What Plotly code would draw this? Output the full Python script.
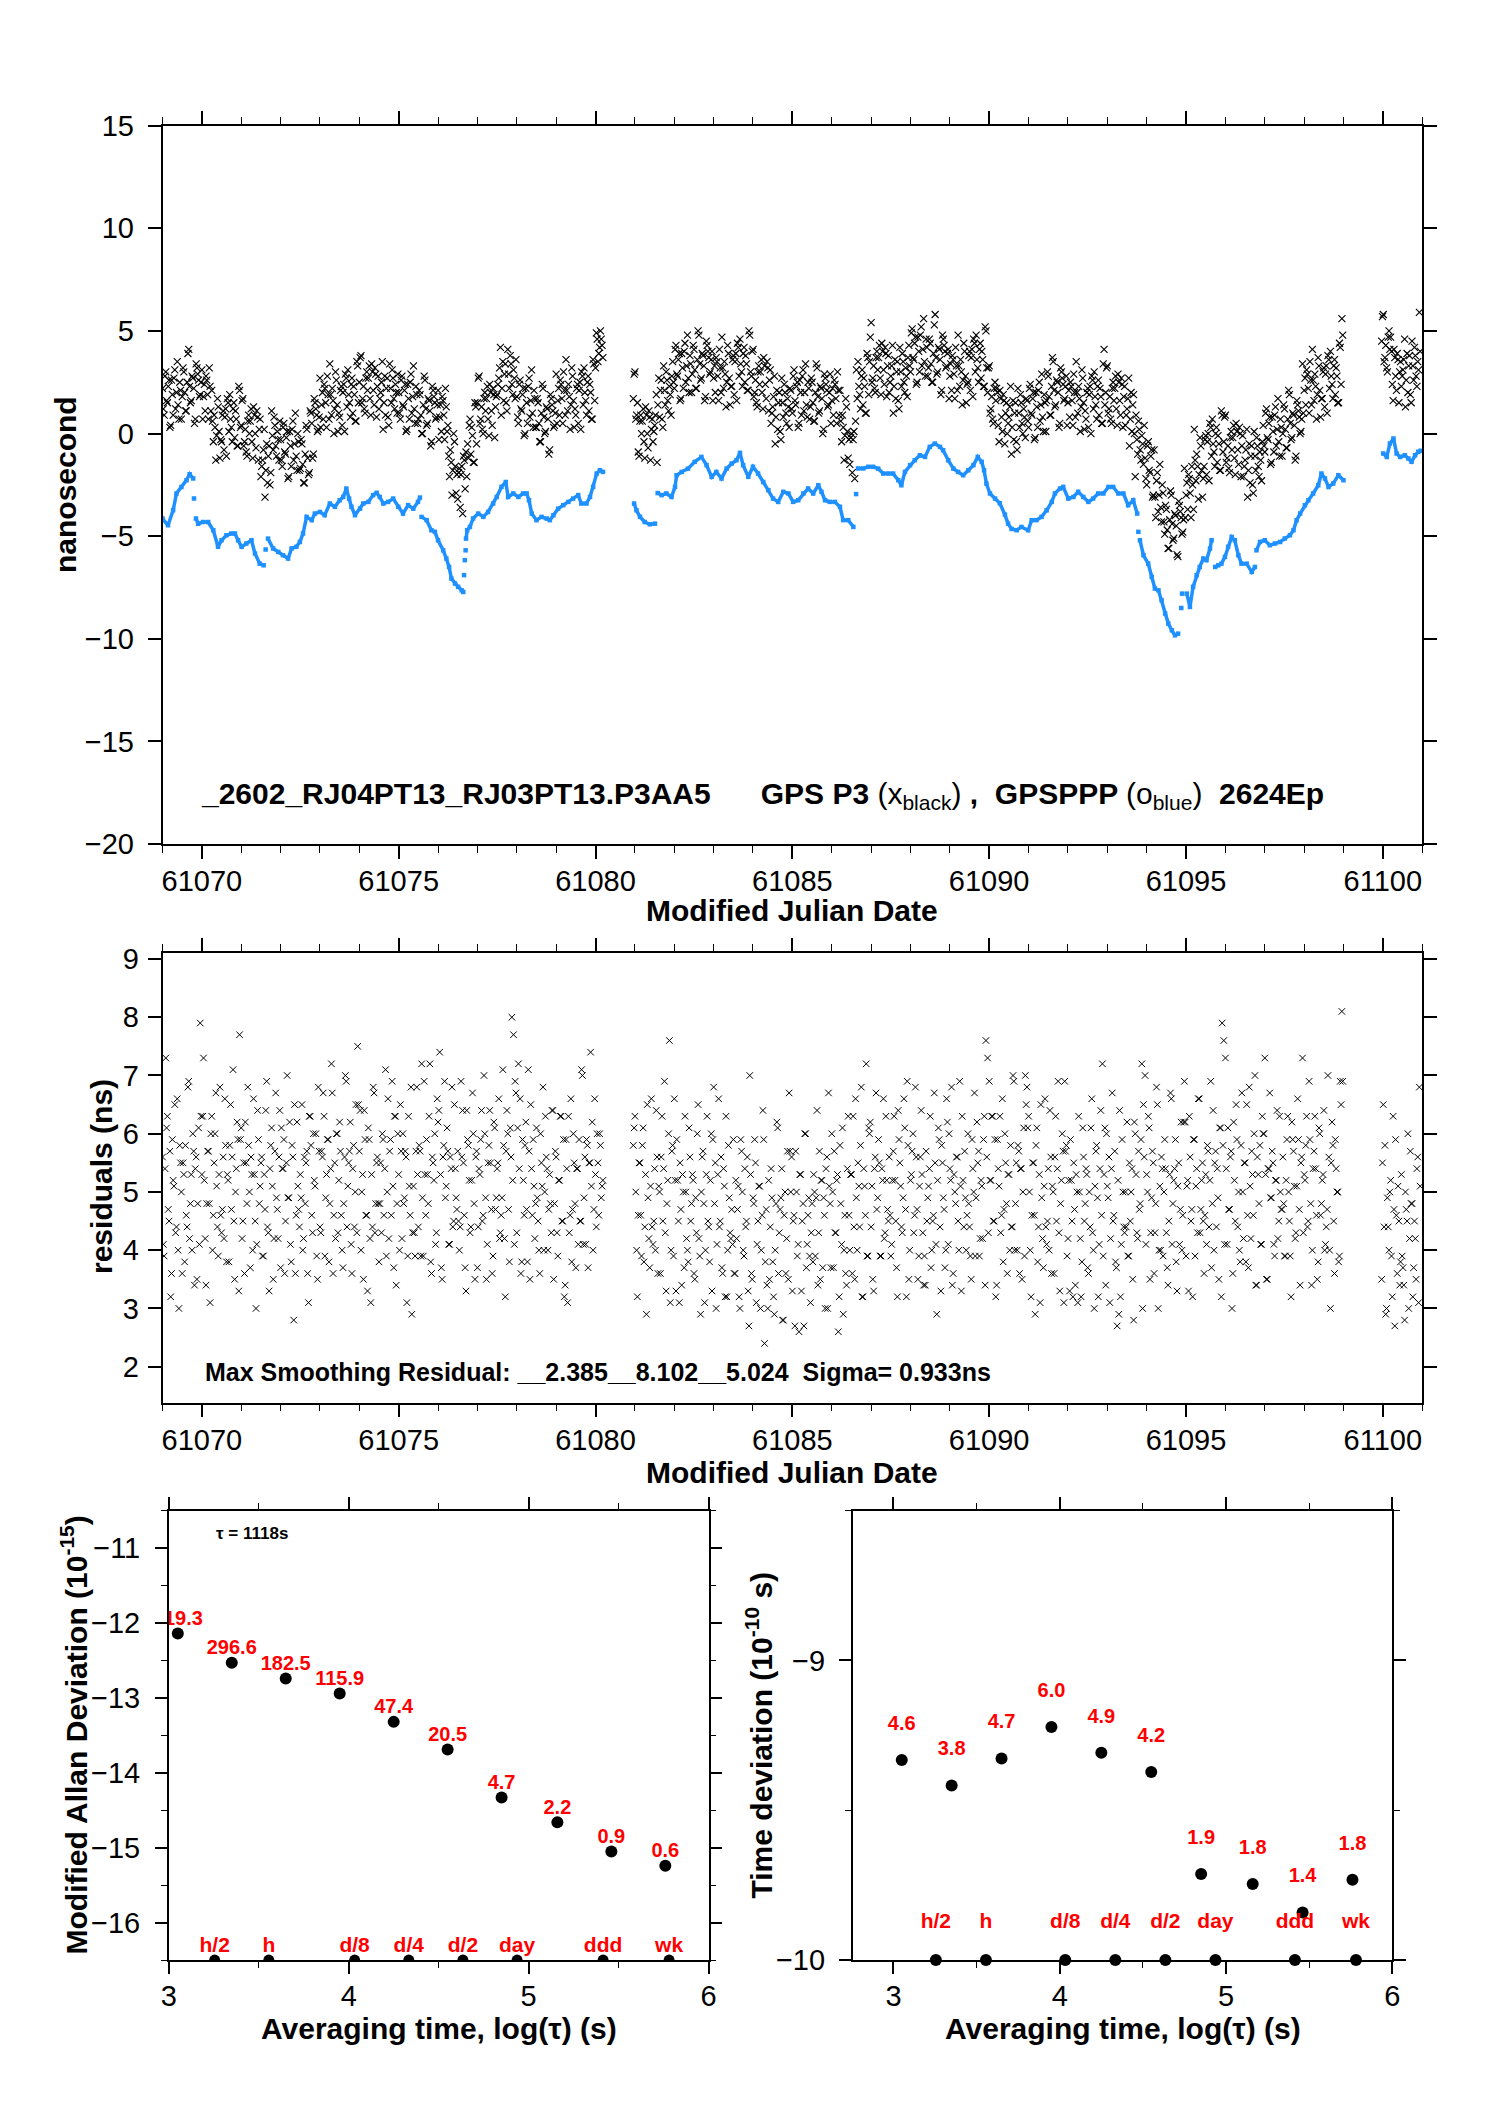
import numpy as np
import plotly.graph_objects as go

FF = "Liberation Sans, Arial, Helvetica, sans-serif"
PAGE_W, PAGE_H = 1488, 2105
OFF = 8                      # default body margin of the page
FW, FH = PAGE_W - 2 * OFF, PAGE_H - 2 * OFF

# ---------------- GPS P3 (black x): hourly samples, two interleaved sets ----------------
SEG_START = [61069.0, 61080.96, 61099.97]
SAMPLE_STEP = 1.0 / 24.0
SET2_SHIFT = 1.0 / 48.0

BLACK_A = [
 2.2,0.9,3.0,1.5,2.6,0.4,1.9,2.7,1.2,3.5,0.7,2.1,
 1.8,3.0,1.1,2.5,4.1,1.5,2.8,2.2,0.7,3.2,2.6,1.9,
 3.1,1.8,1.1,2.6,0.7,2.3,2.1,-0.4,0.3,-0.1,1.3,-1.2,
 -0.4,1.1,0.8,-1.1,1.5,1.9,0.3,1.2,-0.2,0.7,-0.6,2.1,
 0.4,1.7,-0.4,-0.9,0.6,0.0,1.2,-1.2,0.9,-0.7,0.8,0.2,
 -2.1,-1.3,0.2,-1.8,-2.4,-0.6,-1.9,-0.1,0.8,-0.6,0.1,-1.3,
 -0.3,-1.6,0.5,-1.0,0.1,-2.1,-0.6,0.2,-1.3,1.0,-1.8,-0.4,
 -1.7,-0.5,-2.4,-1.0,0.2,-2.0,1.1,0.5,-1.0,1.5,0.9,0.2,
 2.7,1.4,0.7,2.2,0.3,1.9,3.4,0.9,1.6,1.2,2.6,0.1,
 0.8,2.3,2.0,0.1,2.7,3.1,1.5,2.4,1.0,1.9,0.6,3.3,
 2.5,3.8,1.7,1.2,2.7,2.1,3.3,0.9,3.0,1.4,2.9,2.3,
 1.2,2.0,3.5,1.5,0.9,2.7,0.4,2.2,3.1,1.7,2.4,1.0,
 2.0,0.7,2.8,1.3,2.4,0.2,1.7,2.5,1.0,3.3,0.5,1.9,
 0.7,1.9,0.0,1.4,2.6,0.4,1.7,1.1,-0.4,2.1,1.5,0.8,
 2.1,0.8,0.1,1.6,-0.3,1.3,0.4,-2.1,-1.4,-1.8,-0.4,-2.9,
 -3.2,-1.7,-2.0,-3.9,-1.3,-0.9,-0.5,0.4,-1.0,-0.1,-1.4,1.3,
 1.5,2.8,0.7,0.2,1.7,1.1,2.3,-0.1,2.0,0.4,1.9,1.3,
 1.9,2.7,4.2,2.2,1.6,3.4,1.1,2.9,3.8,2.4,3.1,1.7,
 1.8,0.5,2.6,1.1,2.2,0.0,1.5,2.3,0.8,3.1,0.3,1.7,
 0.3,1.5,-0.4,1.0,2.2,0.0,1.3,0.7,-0.8,1.7,1.1,0.4,
 2.9,1.6,0.9,2.4,0.5,2.1,3.6,1.1,1.8,1.4,2.8,0.3,
 0.9,2.4,2.1,0.2,2.8,3.2,1.6,2.5,1.1,2.0,0.7,3.4,
 3.2,4.6,3.9,5.0,4.3]

BLACK_B = [
 1.7,3.0,0.9,-0.9,0.6,0.0,1.2,-1.2,0.9,-0.7,0.8,0.2,
 -0.4,0.4,1.9,1.4,0.8,2.6,0.3,2.1,3.0,1.6,2.3,0.9,
 3.5,2.2,4.3,2.8,3.9,1.7,3.2,4.0,2.5,4.8,2.0,3.4,
 2.9,4.1,2.2,3.6,4.8,2.6,3.9,3.3,1.8,4.3,3.7,3.0,
 4.0,2.7,2.0,3.5,1.6,3.2,4.7,2.2,2.9,2.5,3.9,1.4,
 2.3,3.8,3.5,1.6,4.2,4.6,3.0,3.9,2.5,3.4,2.1,4.8,
 2.8,4.1,2.0,1.5,3.0,2.4,3.6,1.2,3.3,1.7,3.2,2.6,
 0.5,1.3,2.8,0.8,0.2,2.0,-0.3,1.5,2.4,1.0,1.7,0.3,
 2.1,1.0,3.1,1.4,2.5,0.5,2.0,2.8,1.1,3.4,0.8,2.2,
 1.3,2.5,0.6,2.0,3.2,1.0,2.3,1.7,0.2,2.7,2.1,1.4,
 2.9,1.6,0.9,2.4,0.5,2.1,2.1,-0.4,0.3,-0.1,1.3,-1.2,
 -1.5,0.0,-0.3,-2.2,3.1,3.5,1.9,2.8,1.4,2.3,1.0,3.7,
 3.5,5.4,2.7,2.2,3.7,3.1,4.3,1.9,4.0,2.4,3.9,3.3,
 2.0,2.8,4.3,2.3,1.7,3.5,1.2,3.0,3.9,2.5,3.2,1.8,
 4.3,3.0,5.1,3.6,4.7,2.5,4.0,4.8,3.3,5.6,2.8,4.2,
 3.2,4.4,2.5,3.9,5.8,2.9,4.2,3.6,2.1,4.6,4.0,3.3,
 4.1,2.8,2.1,3.6,1.7,3.3,4.8,2.3,3.0,2.6,4.0,1.5,
 2.5,4.0,3.7,1.8,4.4,4.8,3.2,4.1,2.7,3.6,2.3,5.0,
 2.0,3.3,1.2,0.7,2.2,1.6,2.0,-0.4,1.7,0.1,1.6,1.0,
 0.0,0.8,2.3,0.3,-0.3,1.5,-0.8,1.0,1.9,0.5,1.2,-0.2,
 1.6,0.3,2.4,0.9,2.0,-0.2,1.3,2.1,0.6,2.9,0.1,1.5,
 1.6,2.8,0.9,2.3,3.5,1.3,2.6,2.0,0.5,3.0,2.4,1.7,
 2.8,1.5,0.8,2.3,0.4,2.0,3.5,1.0,1.7,1.3,2.7,0.2,
 0.7,2.2,1.9,0.0,2.6,3.0,1.4,2.3,0.9,1.8,0.5,4.1,
 2.0,3.3,1.2,0.7,2.2,1.6,2.8,0.4,2.5,0.9,2.4,1.8,
 0.4,1.2,2.7,0.7,0.1,1.9,-2.1,-0.3,0.6,-0.8,-0.1,-1.5,
 -1.2,-2.5,-0.4,-1.9,-0.8,-3.0,-3.1,-2.3,-3.8,-1.5,-4.3,-2.9,
 -4.9,-3.7,-5.6,-4.2,-3.0,-5.2,-3.9,-4.5,-6.0,-3.5,-4.1,-4.8,
 -1.7,-3.0,-3.7,-2.2,-4.1,-2.5,0.2,-2.3,-1.6,-2.0,-0.6,-3.1,
 -1.6,-0.1,-0.4,-2.3,0.3,0.7,-0.9,0.0,-1.4,-0.5,-1.8,0.9,
 -0.4,0.9,-1.2,-1.7,-0.2,-0.8,0.4,-2.0,0.1,-1.5,0.0,-0.6,
 -2.1,-1.3,0.2,-1.8,-2.4,-0.6,-2.9,-1.1,-0.2,-1.6,-0.9,-2.3,
 0.4,-0.9,1.2,-0.3,0.8,-1.4,0.1,0.9,-0.6,1.7,-1.1,0.3,
 0.0,1.2,-0.7,0.7,1.9,-0.3,1.0,0.4,-1.1,1.4,0.8,0.1,
 3.4,2.1,1.4,2.9,1.0,2.6,4.1,1.6,2.3,1.9,3.3,0.8,
 1.7,3.2,2.9,1.0,3.6,4.0,2.4,3.3,1.9,2.8,1.5,4.2,
 5.6]

BLACK_D = [4.5,5.8,3.7,3.2,4.7,4.1,4.0,1.6,3.7,2.1,3.6,3.0,
           2.3,3.1,4.6,2.6,2.0,3.8,1.5,3.3,4.2,2.8,3.5,5.9]

BLACK2_A = [
 1.2,2.8,1.6,2.3,0.3,2.6,0.9,3.1,2.0,1.4,2.5,0.7,
 3.2,2.0,1.1,3.9,2.3,1.6,2.7,0.5,3.4,2.9,1.8,2.5,
 0.7,2.4,2.8,1.9,3.2,1.1,0.6,0.9,-1.3,1.7,0.1,-0.3,
 0.9,-0.8,1.2,1.7,0.1,0.7,-0.4,1.5,1.1,-0.6,2.3,0.3,
 1.6,-0.6,0.2,-1.1,0.9,0.6,-0.4,1.3,0.0,1.1,-1.3,0.7,
 -1.6,-0.8,-3.1,-0.5,-1.1,-2.5,1.1,-0.8,0.4,-1.1,-0.3,0.6,
 -1.3,0.3,-0.9,-0.2,-2.2,0.1,-1.6,0.6,-0.5,-1.1,0.0,-1.8,
 -0.3,-1.5,-2.4,0.4,-1.2,-1.9,1.0,-1.2,1.7,1.2,0.1,0.8,
 0.3,2.0,2.4,1.5,2.8,0.7,1.9,2.2,0.0,3.0,1.4,1.0,
 2.1,0.4,2.4,2.9,1.3,1.9,0.8,2.7,2.3,0.6,3.5,1.5,
 3.7,1.5,2.3,1.0,3.0,2.7,1.7,3.4,2.1,3.2,0.8,2.8,
 1.7,2.5,0.2,2.8,2.2,0.8,3.4,1.5,2.7,1.2,2.0,2.9,
 1.0,2.6,1.4,2.1,0.1,2.4,0.7,2.9,1.8,1.2,2.3,0.5,
 2.1,0.9,0.0,2.8,1.2,0.5,1.6,-0.6,2.3,1.8,0.7,1.4,
 -0.3,1.4,1.8,0.9,2.2,0.1,-1.1,-0.8,-3.0,0.0,-1.6,-2.0,
 -1.9,-3.6,-1.6,-1.1,-2.7,-2.1,-1.2,0.7,0.3,-1.4,1.5,-0.5,
 2.7,0.5,1.3,0.0,2.0,1.7,0.7,2.4,1.1,2.2,-0.2,1.8,
 2.4,3.2,0.9,3.5,2.9,1.5,4.1,2.2,3.4,1.9,2.7,3.6,
 0.8,2.4,1.2,1.9,-0.1,2.2,0.5,2.7,1.6,1.0,2.1,0.3,
 1.7,0.5,-0.4,2.4,0.8,0.1,1.2,-1.0,1.9,1.4,0.3,1.0,
 0.5,2.2,2.6,1.7,3.0,0.9,2.1,2.4,0.2,3.2,1.6,1.2,
 2.2,0.5,2.5,3.0,1.4,2.0,0.9,2.8,2.4,0.7,3.6,1.6,
 4.9,3.5,4.2,4.6,3.7]

BLACK2_B = [
 2.9,0.7,1.5,-1.1,0.9,0.6,-0.4,1.3,0.0,1.1,-1.3,0.7,
 0.1,0.9,-1.4,2.7,2.1,0.7,3.3,1.4,2.6,1.1,1.9,2.8,
 2.5,4.1,2.9,3.6,1.6,3.9,2.2,4.4,3.3,2.7,3.8,2.0,
 4.3,3.1,2.2,5.0,3.4,2.7,3.8,1.6,4.5,4.0,2.9,3.6,
 1.6,3.3,3.7,2.8,4.1,2.0,3.2,3.5,1.3,4.3,2.7,2.3,
 3.6,1.9,3.9,4.4,2.8,3.4,2.3,4.2,3.8,2.1,5.0,3.0,
 4.0,1.8,2.6,1.3,3.3,3.0,2.0,3.7,2.4,3.5,1.1,3.1,
 1.0,1.8,-0.5,2.1,1.5,0.1,2.7,0.8,2.0,0.5,1.3,2.2,
 1.2,2.8,1.6,2.3,0.3,2.6,0.9,3.1,2.0,1.4,2.5,0.7,
 2.7,1.5,0.6,3.4,1.8,1.1,2.2,0.0,2.9,2.4,1.3,2.0,
 0.5,2.2,2.6,1.7,3.0,0.9,0.6,0.9,-1.3,1.7,0.1,-0.3,
 -0.2,-1.9,0.1,0.6,1.7,2.3,1.2,3.1,2.7,1.0,3.9,1.9,
 4.7,2.5,3.3,2.0,4.0,3.7,2.7,4.4,3.1,4.2,1.8,3.8,
 2.5,3.3,1.0,3.6,3.0,1.6,4.2,2.3,3.5,2.0,2.8,3.7,
 3.3,4.9,3.7,4.4,2.4,4.7,3.0,5.2,4.1,3.5,4.6,2.8,
 4.6,3.4,2.5,5.3,3.7,3.0,4.1,1.9,4.8,4.3,3.2,3.9,
 1.7,3.4,3.8,2.9,4.2,2.1,3.3,3.6,1.4,4.4,2.8,2.4,
 3.8,2.1,4.1,4.6,3.0,3.6,2.5,4.4,4.0,2.3,5.2,3.2,
 3.2,1.0,1.8,0.5,2.5,2.2,0.4,2.1,0.8,1.9,-0.5,1.5,
 0.5,1.3,-1.0,1.6,1.0,-0.4,2.2,0.3,1.5,0.0,0.8,1.7,
 0.6,2.2,1.0,1.7,-0.3,2.0,0.3,2.5,1.4,0.8,1.9,0.1,
 3.0,1.8,0.9,3.7,2.1,1.4,2.5,0.3,3.2,2.7,1.6,2.3,
 0.4,2.1,2.5,1.6,2.9,0.8,2.0,2.3,0.1,3.1,1.5,1.1,
 2.0,0.3,2.3,2.8,1.2,1.8,0.7,2.6,2.2,0.5,3.4,1.4,
 3.2,1.0,1.8,0.5,2.5,2.2,1.2,2.9,1.6,2.7,0.3,2.3,
 0.9,1.7,-0.6,2.0,1.4,0.0,0.9,-1.0,0.2,-1.3,-0.5,0.4,
 -2.2,-0.6,-1.8,-1.1,-3.1,-0.8,-4.1,-1.9,-3.0,-3.6,-2.5,-4.3,
 -3.5,-4.7,-5.6,-2.8,-4.4,-5.1,-4.0,-5.9,-3.3,-3.8,-4.9,-4.2,
 -4.1,-2.4,-2.0,-2.9,-1.6,-3.7,-1.3,-1.0,-3.2,-0.2,-1.8,-2.2,
 -0.3,-2.0,0.0,0.5,-1.1,-0.5,-1.6,0.3,-0.1,-1.8,1.1,-0.9,
 0.8,-1.4,-0.6,-1.9,0.1,-0.2,-1.2,0.5,-0.8,0.3,-2.1,-0.1,
 -1.6,-0.8,-3.1,-0.5,-1.1,-2.5,0.1,-1.8,-0.6,-2.1,-1.3,-0.4,
 -0.6,1.0,-0.2,0.5,-1.5,0.8,-0.9,1.3,0.2,-0.4,0.7,-1.1,
 1.4,0.2,-0.7,2.1,0.5,-0.2,0.9,-1.3,1.6,1.1,0.0,0.7,
 1.0,2.7,3.1,2.2,3.5,1.4,2.6,2.9,0.7,3.7,2.1,1.7,
 3.0,1.3,3.3,3.8,2.2,2.8,1.7,3.6,3.2,1.5,4.4,2.4,
 4.8]

BLACK2_D = [5.7,3.5,4.3,3.0,5.0,4.7,2.4,4.1,2.8,3.9,1.5,3.5,
            2.8,3.6,1.3,3.9,3.3,1.9,4.5,2.6,3.8,2.3,3.1,4.0]

# ---------------- smoothing residuals (ns), same two sample sets ----------------
RESID_A = [
 5.6,3.9,7.3,6.3,4.5,3.2,5.9,5.1,4.3,6.6,3.0,5.5,
 3.6,5.3,5.8,4.4,6.9,4.8,4.0,5.7,5.4,3.5,6.1,7.9,
 5.3,7.3,4.2,4.8,5.7,3.1,6.3,4.6,6.0,5.1,3.9,6.8,
 4.3,5.6,6.6,3.8,5.2,5.8,4.7,7.1,3.5,5.4,5.9,7.7,
 6.1,4.5,3.6,5.5,6.8,5.0,5.6,4.0,5.3,3.0,6.4,4.8,
 5.5,3.9,5.3,6.4,4.4,3.3,5.8,5.1,4.2,6.7,4.7,5.6,
 3.7,5.4,5.9,4.5,7.0,4.9,4.1,5.8,2.8,3.6,6.2,4.7,
 5.3,6.5,4.2,4.8,5.7,3.1,6.3,4.6,6.0,5.1,3.9,6.8,
 4.4,5.7,6.7,3.9,5.3,5.9,4.8,7.2,3.6,5.5,6.0,4.3,
 6.2,4.6,3.7,5.6,6.9,5.1,5.7,4.1,5.4,4.4,6.5,7.5,
 5.7,4.0,5.3,6.4,4.6,3.3,5.9,3.1,4.4,6.7,4.8,5.6,
 3.8,5.5,6.0,4.6,7.1,5.0,4.2,5.9,6.9,3.7,6.3,4.8,
 5.3,6.5,4.2,4.8,5.7,3.1,6.3,4.6,2.9,5.1,3.9,6.8,
 4.4,5.7,7.2,3.9,5.3,5.9,4.8,7.2,3.6,5.5,6.0,4.3,
 6.2,7.4,3.7,5.6,6.9,5.1,5.7,4.1,5.4,4.4,6.5,4.9,
 5.7,4.0,6.9,6.4,4.6,3.3,5.9,5.2,4.4,6.7,4.8,5.6,
 3.7,5.4,5.9,4.5,7.0,4.9,4.1,5.8,5.5,3.6,6.2,4.7,
 5.4,6.6,4.3,4.9,5.8,3.2,6.4,4.7,6.1,8.0,7.7,6.9,
 4.3,7.2,6.6,3.8,5.2,5.8,4.7,7.1,3.5,5.4,5.9,4.2,
 6.1,4.5,3.6,5.5,6.8,5.0,5.6,4.0,5.3,4.3,6.4,4.8,
 5.6,3.9,5.2,6.3,4.5,3.2,5.9,3.1,4.3,6.6,4.7,5.5,
 3.7,5.4,5.9,4.5,7.0,4.9,4.1,5.8,5.5,7.4,6.2,4.7,
 5.3,6.0,4.6,5.8,5.1]

RESID_B = [
 5.8,6.3,4.0,4.6,5.5,3.9,6.1,4.4,2.9,4.9,3.7,6.6,
 4.1,5.4,6.4,3.6,5.0,5.6,4.5,6.9,3.3,5.2,7.6,4.0,
 5.8,6.6,3.3,5.2,3.1,4.7,5.3,3.7,5.0,4.0,6.1,4.5,
 5.3,3.6,4.9,6.0,4.2,2.9,5.6,4.8,4.0,6.3,4.4,5.2,
 3.3,6.8,5.5,4.1,6.6,4.5,3.7,5.4,3.2,3.2,5.8,4.3,
 4.7,5.9,3.6,4.2,5.1,3.0,5.7,4.0,5.4,4.5,3.3,7.0,
 3.6,4.9,5.9,3.1,4.5,5.1,4.0,6.4,2.4,4.7,3.0,3.5,
 5.4,3.8,2.9,4.8,6.1,4.3,4.9,2.8,4.6,3.6,5.7,6.7,
 5.0,3.3,4.6,5.7,3.9,2.6,5.3,4.5,2.7,6.0,4.1,4.9,
 3.1,4.8,5.3,3.9,6.4,4.3,3.5,5.2,4.9,3.0,5.6,6.7,
 4.8,6.0,3.7,4.3,5.2,2.6,5.8,4.1,2.9,4.6,3.4,6.3,
 4.0,5.3,6.3,3.5,4.9,5.5,4.4,6.8,3.2,5.1,7.2,3.9,
 6.0,4.4,3.5,5.4,6.7,4.9,5.5,3.9,5.2,4.2,6.3,4.7,
 5.6,3.9,5.2,6.3,4.5,3.2,5.9,5.1,4.3,6.6,4.7,6.9,
 3.5,5.2,5.7,4.3,6.8,4.7,3.9,5.6,5.3,3.4,3.4,4.5,
 5.1,6.3,4.0,4.6,5.5,2.9,6.1,4.4,5.8,4.9,3.7,6.6,
 4.1,5.4,6.8,3.6,5.0,5.6,4.5,6.9,3.3,5.2,5.7,4.0,
 6.0,4.4,3.5,5.4,6.7,4.9,5.5,3.9,5.2,4.2,6.3,7.6,
 7.3,6.9,5.2,6.3,4.5,3.2,5.9,5.1,4.3,6.6,4.7,5.5,
 3.6,5.3,5.8,4.4,6.9,4.8,4.0,5.7,5.4,3.5,6.1,7.0,
 6.8,6.3,4.0,4.6,5.5,2.9,6.1,4.4,3.1,4.9,3.7,6.6,
 4.1,5.4,6.4,3.6,5.0,5.6,4.5,6.9,3.3,5.2,5.7,6.9,
 5.8,4.2,3.3,5.2,3.2,4.7,5.3,3.1,5.0,3.2,6.1,4.5,
 5.4,3.7,5.0,6.1,4.3,3.0,5.7,4.9,4.1,6.4,7.2,5.3,
 3.4,5.1,5.6,4.2,6.7,4.6,3.8,2.7,2.9,3.2,5.9,4.4,
 5.0,6.2,3.9,4.5,5.4,2.8,6.0,4.3,5.7,4.8,7.2,6.5,
 7.0,5.3,6.3,3.5,4.9,5.5,4.3,6.8,3.0,5.1,5.6,3.9,
 5.9,4.3,3.4,5.3,6.6,4.8,5.4,3.8,5.1,4.1,6.2,4.6,
 6.9,3.9,5.2,6.3,4.5,3.2,5.9,5.1,4.3,6.6,4.7,5.5,
 3.6,5.3,5.8,4.4,6.9,4.8,4.0,5.7,5.4,3.5,6.1,7.9,
 7.6,7.3,4.1,4.7,5.6,3.0,6.2,4.5,5.9,5.0,3.8,6.7,
 4.2,5.5,6.5,3.7,5.1,5.7,4.6,7.0,3.4,5.3,5.8,4.1,
 6.0,7.3,3.5,5.4,6.7,4.9,5.5,3.9,5.2,4.2,6.3,4.7,
 5.6,3.9,5.2,6.3,4.5,3.2,5.9,5.1,4.3,6.6,4.7,5.5,
 7.3,5.3,5.8,4.4,6.9,4.8,4.0,5.7,5.4,3.5,6.1,4.6,
 5.2,6.4,4.1,4.7,5.6,3.0,6.2,4.5,5.9,5.0,3.8,6.9,
 8.1]

RESID_D = [3.5,6.5,5.8,3.0,4.4,5.0,3.9,6.3,2.7,4.6,5.1,3.4,
           5.3,3.7,2.8,4.7,6.0,4.2,4.8,3.2,4.5,3.5,5.6,6.8]

RESID2_A = [
 4.1,5.4,6.1,4.7,5.7,3.6,5.2,6.5,4.4,4.0,5.8,5.0,
 5.5,3.8,4.6,6.8,4.2,5.3,6.0,3.4,5.6,4.8,4.1,6.3,
 6.3,5.2,3.4,5.7,4.8,6.0,4.0,5.5,6.7,4.4,5.3,4.6,
 4.7,4.2,5.8,5.3,3.8,6.5,5.6,4.5,5.0,6.2,3.3,5.9,
 4.2,5.5,6.2,4.8,5.8,3.7,5.3,6.6,4.5,4.1,5.9,5.1,
 5.6,3.9,4.7,6.9,4.3,5.4,6.1,3.5,5.7,4.9,4.2,6.4,
 6.1,5.4,3.6,5.5,4.9,6.2,3.8,5.6,6.5,4.6,5.1,4.4,
 4.9,4.0,5.6,5.5,3.6,6.3,5.8,4.3,5.2,6.0,3.5,5.7,
 4.3,5.6,6.3,4.9,5.9,3.8,5.4,6.7,4.6,4.2,6.0,5.2,
 5.7,4.0,4.8,7.0,4.4,5.5,6.2,3.6,5.8,5.0,4.3,6.5,
 6.4,5.0,3.5,5.9,4.6,6.1,4.2,5.3,6.8,4.3,5.5,4.8,
 4.8,4.3,5.9,5.4,3.9,6.6,5.7,4.6,5.1,6.3,3.4,6.0,
 4.0,5.7,6.0,4.9,5.6,3.9,5.1,6.8,4.3,4.3,5.7,5.3,
 5.8,3.9,4.9,6.9,4.6,5.3,6.3,3.8,5.6,5.2,4.1,6.6,
 6.4,5.3,3.5,5.8,4.9,6.1,4.1,5.6,6.8,4.5,5.4,4.7,
 4.5,4.4,5.6,5.5,3.7,6.4,5.8,4.3,5.2,6.0,3.5,5.7,
 4.4,5.3,6.4,4.6,6.0,3.5,5.5,6.4,4.7,3.9,6.1,4.9,
 5.5,4.2,4.6,7.1,4.2,5.7,6.0,3.8,5.6,5.2,4.1,6.7,
 6.1,5.4,3.6,5.9,4.6,6.2,3.8,5.7,6.5,4.6,5.1,4.8,
 4.9,4.0,6.0,5.1,4.0,6.3,5.4,4.7,4.8,6.4,3.5,5.7,
 4.3,5.2,6.3,4.5,5.9,3.4,5.4,6.3,4.6,3.8,6.0,4.8,
 5.4,4.1,4.5,7.1,4.1,5.6,5.9,3.7,5.5,5.1,4.0,6.6,
 4.4,5.5,6.0,4.9,5.2]

RESID2_B = [
 6.1,5.0,3.2,5.5,4.6,5.8,3.8,5.3,6.5,4.2,5.1,4.4,
 4.5,4.0,5.6,5.1,3.6,6.3,5.4,4.3,4.8,6.0,3.1,5.7,
 3.9,5.2,5.9,4.5,5.5,3.4,5.0,6.3,4.2,3.8,5.6,4.8,
 5.2,3.5,4.3,6.5,3.9,5.0,5.7,3.1,5.3,4.5,3.8,6.0,
 5.9,4.8,3.0,5.3,4.4,5.6,3.6,5.1,6.3,4.0,4.9,4.2,
 4.1,3.6,5.2,4.7,3.2,5.9,5.0,3.9,4.4,5.6,2.7,5.3,
 3.5,4.8,5.5,4.1,5.1,3.0,4.6,5.9,3.8,3.4,5.2,4.4,
 4.9,3.2,4.0,6.2,3.6,4.7,5.4,2.8,5.0,4.2,3.5,5.7,
 5.6,4.5,2.7,5.0,4.1,5.3,3.3,4.8,6.0,3.7,4.6,3.9,
 4.3,3.8,5.0,4.9,3.4,5.7,5.2,3.7,4.6,5.4,3.0,5.1,
 3.7,5.0,5.7,4.3,5.3,3.2,4.8,6.1,4.0,3.6,5.4,4.6,
 5.3,3.6,4.4,6.6,4.0,5.1,5.8,3.2,5.4,4.6,3.9,6.1,
 6.2,5.1,3.3,5.6,4.7,5.9,3.9,5.4,6.6,4.3,5.2,4.5,
 4.6,4.1,5.7,5.2,3.7,6.4,5.5,4.4,4.9,6.1,3.2,5.8,
 4.0,5.3,6.0,4.6,5.6,3.5,5.1,6.4,4.3,3.9,5.7,4.9,
 5.4,3.7,4.5,6.7,4.1,5.2,5.9,3.3,5.5,4.7,4.0,6.2,
 6.0,5.2,3.4,5.3,4.8,5.6,4.0,5.1,6.3,4.4,4.9,4.6,
 4.8,3.9,5.9,5.0,3.9,6.2,5.7,4.2,5.1,5.9,3.4,5.6,
 4.3,5.2,6.3,4.5,5.9,3.4,5.4,6.3,4.6,3.8,6.0,4.8,
 5.3,4.0,4.4,7.0,4.0,5.5,5.8,3.6,5.4,5.0,3.9,6.5,
 6.1,5.0,3.2,5.5,4.6,5.8,3.8,5.3,6.5,4.2,5.1,4.4,
 4.5,4.0,5.6,5.1,3.6,6.3,5.4,4.3,4.8,6.0,3.1,5.7,
 3.9,5.2,5.9,4.5,5.5,3.4,5.0,6.3,4.2,3.8,5.6,4.8,
 5.3,3.6,4.4,6.6,4.0,5.1,5.8,3.2,5.4,4.6,3.9,6.1,
 6.0,4.9,3.1,5.4,4.5,5.7,3.7,5.2,6.4,4.1,5.0,4.3,
 4.4,3.9,5.5,5.0,3.5,6.2,5.3,4.2,4.7,5.9,3.0,5.6,
 4.1,5.0,6.1,4.3,5.7,3.6,4.8,6.5,4.0,4.0,5.4,5.0,
 5.4,3.7,4.5,6.7,4.1,5.2,5.9,3.3,5.5,4.7,4.0,6.2,
 6.2,5.1,3.3,5.6,4.7,5.9,3.9,5.4,6.6,4.3,5.2,4.5,
 4.6,4.1,5.7,5.2,3.7,6.4,5.5,4.4,4.9,6.1,3.2,5.8,
 4.1,5.4,6.1,4.7,5.7,3.6,5.2,6.5,4.4,4.0,5.8,5.0,
 5.5,3.8,4.6,6.8,4.2,5.3,6.0,3.4,5.6,4.8,4.1,6.3,
 6.0,5.3,3.5,5.4,4.9,5.7,4.1,5.2,6.4,4.5,5.0,4.7,
 4.8,3.9,5.9,5.0,3.9,6.2,5.7,4.2,5.1,5.9,3.4,5.6,
 4.3,5.2,6.3,4.5,5.9,3.4,5.4,6.3,4.6,3.8,6.0,4.8,
 5.3,4.0,4.4,7.0,4.0,5.5,5.8,3.6,5.4,5.0,3.9,6.5,
 6.9]

RESID2_D = [5.5,4.4,2.9,4.9,4.0,5.2,3.2,4.7,5.9,3.6,4.5,3.8,
            3.9,3.4,5.0,4.5,3.0,5.7,4.8,3.7,4.2,5.4,3.1,5.1]

# ---------------- GPSPPP (blue); None marks a gap ----------------
BLUE_MJD = [
 61069.00,61069.14,61069.27,61069.355,61069.48,61069.61,61069.69,61069.78,None,
 61069.80,None,
 61069.85,61069.905,61070.03,61070.16,61070.29,61070.41,61070.50,61070.625,61070.75,61070.84,61070.92,61071.01,61071.13,61071.26,61071.35,61071.47,61071.57,None,
 61071.62,None,
 61071.68,61071.81,61071.94,61072.06,61072.19,61072.28,61072.40,61072.49,61072.57,61072.66,61072.79,61072.87,
 61073.00,61073.12,61073.25,61073.38,61073.50,61073.59,61073.67,61073.74,61073.80,61073.89,
 61074.02,61074.10,61074.23,61074.35,61074.44,61074.52,61074.61,61074.73,61074.86,61074.99,
 61075.11,61075.24,61075.37,61075.49,61075.54,None,
 61075.58,61075.71,61075.83,61075.92,61076.00,61076.13,61076.21,61076.28,61076.34,61076.43,61076.51,61076.60,61076.64,None,
 61076.66,None,61076.68,None,61076.70,None,
 61076.71,61076.74,61076.81,61076.89,
 61077.02,61077.15,61077.27,61077.40,61077.49,61077.61,61077.72,61077.78,61077.91,
 61078.04,61078.16,61078.25,61078.31,61078.38,61078.50,61078.63,61078.76,61078.84,61078.93,
 61079.05,61079.18,61079.31,61079.43,61079.56,61079.64,61079.77,61079.86,61079.94,
 61080.03,61080.11,61080.19,None,
 61080.98,61081.04,61081.13,61081.25,61081.38,61081.51,None,
 61081.58,61081.68,61081.80,61081.93,
 61082.02,61082.06,61082.19,61082.35,61082.52,61082.69,61082.82,61082.95,
 61083.07,61083.20,61083.33,61083.46,61083.58,61083.67,61083.75,61083.88,
 61084.00,61084.13,61084.26,61084.39,61084.51,61084.64,61084.77,61084.90,
 61085.02,61085.15,61085.28,61085.40,61085.53,61085.66,61085.74,61085.83,61085.95,
 61086.08,61086.21,61086.29,61086.42,61086.55,None,
 61086.62,None,
 61086.67,61086.80,61086.93,
 61087.05,61087.18,61087.31,61087.44,61087.56,61087.69,61087.77,61087.86,61087.99,
 61088.11,61088.24,61088.37,61088.49,61088.62,61088.75,61088.83,61088.96,
 61089.09,61089.21,61089.34,61089.47,61089.60,61089.71,61089.81,61089.87,61089.93,
 61090.02,61090.15,61090.27,61090.40,61090.48,61090.57,61090.70,61090.82,61090.99,
 61091.08,61091.20,61091.33,61091.46,61091.59,61091.67,61091.80,61091.88,
 61092.01,61092.14,61092.26,61092.39,61092.52,61092.64,61092.77,61092.90,
 61093.03,61093.15,61093.28,61093.41,61093.53,61093.66,61093.76,None,
 61093.79,None,
 61093.83,61093.92,61094.04,61094.13,61094.21,61094.30,61094.38,61094.47,61094.55,61094.64,61094.72,61094.80,None,
 61094.88,None,61094.90,None,
 61095.02,61095.10,61095.18,61095.27,61095.35,61095.44,61095.52,61095.61,61095.65,None,
 61095.74,61095.82,61095.90,61095.99,61096.07,61096.16,61096.24,61096.33,61096.41,61096.54,61096.67,61096.75,None,
 61096.79,61096.88,
 61097.00,61097.13,61097.26,61097.39,61097.51,61097.64,61097.73,61097.81,61097.90,
 61098.02,61098.11,61098.23,61098.36,61098.44,61098.53,61098.62,61098.74,61098.87,
 61099.00,None,
 61100.01,61100.10,61100.18,61100.27,61100.35,61100.44,61100.56,61100.65,61100.73,61100.82,61100.90,61100.96]

BLUE_NS = [
 -4.14,-4.47,-3.74,-2.92,-2.60,-2.27,-1.98,-2.19,None,
 -3.17,None,
 -4.14,-4.39,-4.31,-4.31,-4.71,-5.52,-5.20,-4.96,-4.87,-4.87,-5.20,-5.52,-5.36,-5.20,-5.85,-6.34,-6.42,None,
 -5.65,None,
 -5.12,-5.60,-5.77,-5.93,-6.09,-5.60,-5.52,-5.28,-4.87,-4.06,-4.22,-3.90,
 -3.82,-3.98,-3.41,-3.57,-3.25,-3.09,-2.68,-3.17,-3.57,-3.98,
 -3.66,-3.41,-3.33,-3.00,-2.89,-3.09,-3.41,-3.33,-3.17,-3.57,
 -3.90,-3.49,-3.66,-3.33,-3.12,None,
 -4.06,-4.22,-4.71,-4.79,-5.20,-5.69,-6.09,-6.50,-7.07,-7.31,-7.47,-7.64,-7.72,None,
 -6.90,None,-6.17,None,-5.69,None,
 -5.12,-4.71,-4.55,-4.14,
 -3.90,-4.06,-3.82,-3.41,-3.09,-2.60,-2.36,-3.09,-2.92,
 -3.09,-2.92,-2.92,-3.25,-3.90,-4.22,-4.06,-4.14,-4.22,-3.98,
 -3.66,-3.49,-3.33,-3.17,-3.00,-3.41,-3.41,-3.09,-2.60,
 -1.95,-1.79,-1.87,None,
 -3.41,-3.74,-4.06,-4.31,-4.42,-4.39,None,
 -2.90,-3.00,-2.92,-3.09,
 -2.60,-2.03,-1.87,-1.71,-1.38,-1.14,-1.54,-2.11,
 -1.87,-2.19,-1.71,-1.46,-1.30,-0.94,-1.54,-2.11,
 -1.62,-1.95,-2.36,-2.76,-3.17,-3.33,-2.84,-2.92,
 -3.33,-3.25,-2.92,-2.68,-2.92,-2.52,-2.84,-3.25,-3.33,
 -3.33,-3.57,-4.22,-4.22,-4.55,None,
 -2.95,None,
 -1.70,-1.70,-1.62,
 -1.62,-1.71,-1.95,-1.95,-1.95,-2.27,-2.52,-1.87,-1.54,
 -1.30,-1.06,-1.14,-0.65,-0.49,-0.65,-0.81,-1.30,
 -1.71,-1.87,-2.03,-1.79,-1.54,-1.14,-1.38,-1.79,-2.44,
 -2.92,-3.17,-3.40,-3.95,-4.39,-4.65,-4.71,-4.55,-4.71,
 -4.22,-4.22,-4.06,-3.74,-3.33,-2.92,-2.68,-2.60,
 -3.17,-3.09,-2.84,-3.09,-3.33,-3.17,-2.92,-2.92,
 -2.60,-2.60,-2.92,-2.92,-3.49,-3.25,-3.90,None,
 -4.79,None,
 -5.20,-5.93,-6.34,-6.99,-7.55,-7.64,-8.12,-8.77,-9.26,-9.59,-9.83,-9.75,None,
 -8.50,None,-7.80,None,
 -7.80,-8.45,-7.47,-6.90,-6.50,-6.09,-6.17,-5.60,-5.20,None,
 -6.50,-6.42,-6.34,-6.01,-5.52,-5.04,-5.20,-5.93,-6.34,-6.34,-6.74,-6.50,None,
 -5.69,-5.28,
 -5.20,-5.44,-5.36,-5.28,-5.12,-4.96,-4.71,-4.22,-3.90,
 -3.49,-3.25,-2.92,-2.52,-1.95,-2.19,-2.60,-2.44,-2.03,
 -2.27,None,
 -0.97,-1.14,-0.49,-0.24,-0.97,-1.14,-1.06,-1.22,-1.38,-1.06,-0.89,-0.84]

# ---------------- stability panels ----------------
LOG_TAU = [3.05, 3.35, 3.65, 3.95, 4.25, 4.55, 4.85, 5.16, 5.46, 5.76]
MDEV_LOG = [-12.14, -12.53, -12.74, -12.94, -13.32, -13.69, -14.33, -14.66, -15.05, -15.24]
MDEV_LABELS = ["719.3", "296.6", "182.5", "115.9", "47.4", "20.5", "4.7", "2.2", "0.9", "0.6"]
TDEV_LOG = [-9.332, -9.417, -9.327, -9.222, -9.308, -9.372, -9.713, -9.746, -9.841, -9.732]
TDEV_LABELS = ["4.6", "3.8", "4.7", "6.0", "4.9", "4.2", "1.9", "1.8", "1.4", "1.8"]
REF_NAMES = ["h/2", "h", "d/8", "d/4", "d/2", "day", "ddd", "wk"]
REF_LOG_TAU = [3.255, 3.556, 4.033, 4.334, 4.635, 4.936, 5.414, 5.781]

assert len(BLUE_MJD) == len(BLUE_NS)
sets = [(0.0, (BLACK_A, BLACK_B, BLACK_D), (RESID_A, RESID_B, RESID_D)),
        (SET2_SHIFT, (BLACK2_A, BLACK2_B, BLACK2_D), (RESID2_A, RESID2_B, RESID2_D))]
t_parts, b_parts, r_parts = [], [], []
for shift, blks, ress in sets:
    for s, b, r in zip(SEG_START, blks, ress):
        assert len(b) == len(r), (len(b), len(r))
        t_parts.append(s + shift + np.arange(len(b)) * SAMPLE_STEP)
        b_parts.append(np.array(b, dtype=float))
        r_parts.append(np.array(r, dtype=float))
T = np.concatenate(t_parts)
BLK = np.concatenate(b_parts)
RES = np.concatenate(r_parts)

BLUE = "#1E90FF"
fig = go.Figure()

xmark_top = dict(symbol="x-thin", size=7, line=dict(width=1.1, color="black"), color="black")
xmark_mid = dict(symbol="x-thin", size=6.5, line=dict(width=1.0, color="black"), color="black")

fig.add_trace(go.Scatter(x=T, y=BLK, mode="markers", marker=xmark_top, xaxis="x", yaxis="y",
                         hoverinfo="skip"))
fig.add_trace(go.Scatter(x=BLUE_MJD, y=BLUE_NS, mode="lines+markers",
                         line=dict(color=BLUE, width=3.5),
                         marker=dict(symbol="square", size=4.5, color=BLUE),
                         xaxis="x", yaxis="y", hoverinfo="skip"))
fig.add_trace(go.Scatter(x=T, y=RES, mode="markers", marker=xmark_mid, xaxis="x2", yaxis="y2",
                         hoverinfo="skip"))

# MDEV panel
fig.add_trace(go.Scatter(x=LOG_TAU, y=MDEV_LOG, mode="markers",
                         marker=dict(size=12, color="black"), xaxis="x3", yaxis="y3"))
fig.add_trace(go.Scatter(x=LOG_TAU, y=[v + 0.18 for v in MDEV_LOG], mode="text",
                         text=MDEV_LABELS, textposition="middle center",
                         textfont=dict(family=FF, size=20, color="red", weight="bold"),
                         cliponaxis=True, xaxis="x3", yaxis="y3"))
fig.add_trace(go.Scatter(x=REF_LOG_TAU, y=[-16.5] * len(REF_LOG_TAU), mode="markers",
                         marker=dict(size=11, color="black"), cliponaxis=True,
                         xaxis="x3", yaxis="y3"))
fig.add_trace(go.Scatter(x=REF_LOG_TAU, y=[-16.32] * len(REF_LOG_TAU), mode="text",
                         text=REF_NAMES, textposition="middle center",
                         textfont=dict(family=FF, size=21, color="red", weight="bold"),
                         xaxis="x3", yaxis="y3"))

# TDEV panel
fig.add_trace(go.Scatter(x=LOG_TAU, y=TDEV_LOG, mode="markers",
                         marker=dict(size=12, color="black"), xaxis="x4", yaxis="y4"))
fig.add_trace(go.Scatter(x=LOG_TAU, y=[v + 0.117 for v in TDEV_LOG], mode="text",
                         text=TDEV_LABELS, textposition="middle center",
                         textfont=dict(family=FF, size=20, color="red", weight="bold"),
                         xaxis="x4", yaxis="y4"))
fig.add_trace(go.Scatter(x=REF_LOG_TAU, y=[-10.0] * len(REF_LOG_TAU), mode="markers",
                         marker=dict(size=12, color="black"), cliponaxis=False,
                         xaxis="x4", yaxis="y4"))
fig.add_trace(go.Scatter(x=REF_LOG_TAU, y=[-9.875] * len(REF_LOG_TAU), mode="text",
                         text=REF_NAMES, textposition="middle center",
                         textfont=dict(family=FF, size=21, color="red", weight="bold"),
                         xaxis="x4", yaxis="y4"))


def ax(**kw):
    d = dict(showline=True, linecolor="black", linewidth=1.5, mirror="ticks",
             ticks="outside", tickcolor="black", tickwidth=1.5, ticklen=12,
             showgrid=False, zeroline=False, fixedrange=True, automargin=False,
             tickfont=dict(family=FF, size=29, color="black"))
    d.update(kw)
    return d


# page-pixel helpers (page = figure + default 8px body margin)
def px_x(a, b):
    return [(a - OFF) / FW, (b - OFF) / FW]


def px_y(top, bottom):
    return [1 - (bottom - OFF) / FH, 1 - (top - OFF) / FH]


minor_day = dict(tick0=61069, dtick=1, ticklen=7, ticks="outside", tickcolor="black",
                 tickwidth=1.2, showgrid=False)
minor_half = dict(tick0=0, dtick=0.5, ticklen=6, ticks="outside", tickcolor="black",
                  tickwidth=1.2, showgrid=False)

fig.update_layout(
    width=FW, height=FH, autosize=False, margin=dict(l=0, r=0, t=0, b=0, pad=0),
    paper_bgcolor="white", plot_bgcolor="white", showlegend=False,
    xaxis=ax(domain=px_x(162.5, 1422.2), range=[61069, 61101], tickmode="linear",
             tick0=61070, dtick=5, tickformat="d", ticklen=13, minor=minor_day,
             anchor="y", ticklabelstandoff=-3),
    yaxis=ax(domain=px_y(125.7, 844.0), range=[-20, 15], tickmode="linear", tick0=0,
             dtick=5, ticklen=13, anchor="x", ticklabelstandoff=8),
    xaxis2=ax(domain=px_x(162.5, 1422.2), range=[61069, 61101], tickmode="linear",
              tick0=61070, dtick=5, tickformat="d", ticklen=13, minor=minor_day,
              anchor="y2", ticklabelstandoff=-2),
    yaxis2=ax(domain=px_y(952.7, 1402.7), range=[1.382, 9.108], tickmode="linear",
              tick0=0, dtick=1, ticklen=13, anchor="x2", ticklabelstandoff=3),
    xaxis3=ax(domain=px_x(168.8, 708.5), range=[3, 6], tickmode="linear", tick0=0,
              dtick=1, minor=minor_half, anchor="y3", ticklabelstandoff=-3),
    yaxis3=ax(domain=px_y(1510.6, 1960.1), range=[-16.5, -10.5], tickmode="linear",
              tick0=0, dtick=1, minor=minor_half, anchor="x3", ticklabelstandoff=9),
    xaxis4=ax(domain=px_x(852.7, 1392.4), range=[2.755, 6], tickmode="linear", tick0=0,
              dtick=1, minor=minor_half, anchor="y4", ticklabelstandoff=-3),
    yaxis4=ax(domain=px_y(1510.6, 1960.1), range=[-10, -8.5], tickmode="array",
              tickvals=[-10, -9], minor=minor_half, anchor="x4", ticklabelstandoff=8),
)

NB = "\u00a0"


def ann(text, x, y, size=30, xanchor="center", angle=0, color="black"):
    fig.add_annotation(text=text, x=(x - OFF) / FW, y=1 - (y - OFF) / FH,
                       xref="paper", yref="paper", xanchor=xanchor, yanchor="middle",
                       showarrow=False, textangle=angle,
                       font=dict(family=FF, size=size, color=color))


# titles (page pixel positions)
ann("<b>Modified Julian Date</b>", 792.4, 911)
ann("<b>Modified Julian Date</b>", 792.4, 1472)
ann("<b>Averaging time, log(τ) (s)</b>", 438.7, 2028)
ann("<b>Averaging time, log(τ) (s)</b>", 1122.5, 2028)
ann("<b>nanosecond</b>", 66, 485, angle=-90)
ann("<b>residuals (ns)</b>", 101, 1177, angle=-90)
ann("<b>Modified Allan Deviation (10<sup>-15</sup>)</b>", 74, 1735.5, angle=-90)
ann("<b>Time deviation (10<sup>-10</sup> s)</b>", 759, 1735.5, angle=-90)

ann("<b>_2602_RJ04PT13_RJ03PT13.P3AA5" + NB * 6 + "GPS P3 </b>(x<sub>black</sub>)<b>"
    + NB + "," + NB * 2 + "GPSPPP </b>(o<sub>blue</sub>)<b>" + NB * 2 + "2624Ep</b>",
    199, 796, size=30, xanchor="left")
ann("<b>Max Smoothing Residual: __2.385__8.102__5.024" + NB * 2 + "Sigma= 0.933ns</b>",
    202.7, 1372, size=25, xanchor="left")
ann("<b>τ = 1118s</b>", 252, 1533, size=17)

fig.write_html("out.html", config={"displayModeBar": False})
